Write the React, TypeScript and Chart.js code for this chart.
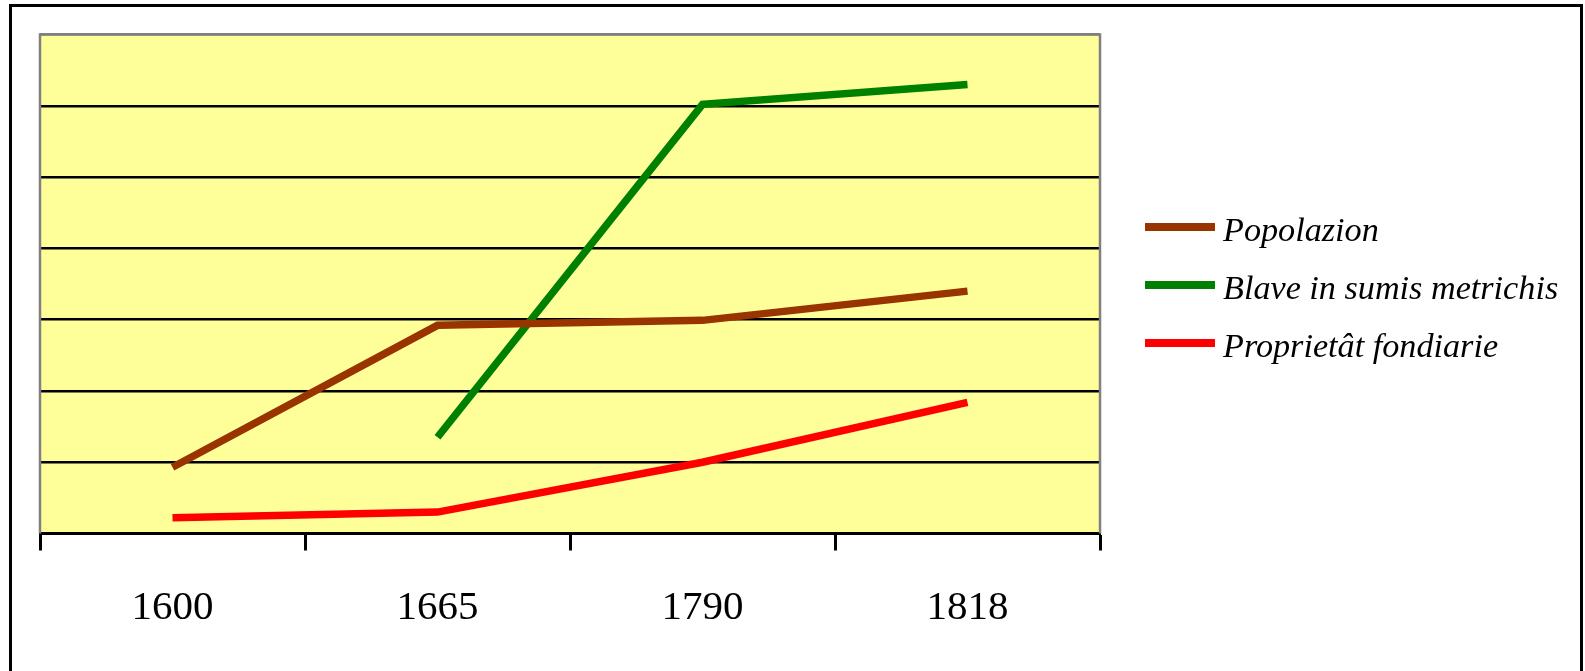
import React, { useEffect, useRef } from "react";
import { Chart, registerables } from "chart.js";

Chart.register(...registerables);

const categories = ["1600", "1665", "1790", "1818"];
const popolazion = [0.93, 2.92, 2.99, 3.4];
const blave: (number | null)[] = [null, 1.35, 6.02, 6.3];
const proprietat = [0.22, 0.3, 1.0, 1.84];
const seriesLabels = ["Popolazion", "Blave in sumis metrichis", "Proprietât fondiarie"];
const seriesColors = ["#993300", "#008000", "#FF0000"];
const yMin = 0;
const yMax = 7;
const yStep = 1;

const SERIF = "'Liberation Serif', 'Times New Roman', serif";

const plotFrame = {
  id: "plotFrame",
  beforeDraw(chart: any) {
    const { ctx, chartArea: a } = chart;
    ctx.save();
    ctx.fillStyle = "#FFFF99";
    ctx.fillRect(a.left, a.top, a.right - a.left, a.bottom - a.top);
    ctx.restore();
  },
  beforeDatasetsDraw(chart: any) {
    const { ctx, chartArea: a } = chart;
    ctx.save();
    ctx.strokeStyle = "#808080";
    ctx.lineWidth = 2.5;
    ctx.beginPath();
    ctx.moveTo(a.left, a.bottom);
    ctx.lineTo(a.left, a.top);
    ctx.lineTo(a.right, a.top);
    ctx.lineTo(a.right, a.bottom);
    ctx.stroke();
    ctx.restore();
  },
};

export default function App() {
  const canvasRef = useRef<HTMLCanvasElement | null>(null);

  useEffect(() => {
    document.body.style.margin = "0";
    const canvas = canvasRef.current;
    if (!canvas) return;
    const seriesData = [popolazion, blave, proprietat];
    const chart = new Chart(canvas, {
      type: "line",
      data: {
        labels: categories,
        datasets: seriesLabels.map((label, i) => ({
          label,
          data: seriesData[i] as any,
          borderColor: seriesColors[i],
          backgroundColor: seriesColors[i],
          borderWidth: 7.5,
          pointRadius: 0,
          pointHoverRadius: 0,
          tension: 0,
          fill: false,
          borderCapStyle: "butt" as const,
          borderJoinStyle: "miter" as const,
        })),
      },
      options: {
        responsive: false,
        animation: false,
        devicePixelRatio: 1,
        layout: { padding: { left: 40, top: 34.5, right: 485, bottom: 0 } },
        plugins: {
          legend: { display: false },
          tooltip: { enabled: false },
          title: { display: false },
        },
        scales: {
          x: {
            type: "category",
            offset: true,
            grid: {
              offset: true,
              drawOnChartArea: false,
              drawTicks: true,
              tickLength: 17,
              tickColor: "#000000",
              tickWidth: 3,
            },
            border: { display: true, color: "#000000", width: 3 },
            ticks: {
              color: "#000000",
              font: { family: SERIF, size: 41 },
              padding: 33,
              maxRotation: 0,
            },
            afterFit(s: any) {
              s.height = 671 - 533.5;
            },
          },
          y: {
            min: yMin,
            max: yMax,
            ticks: { display: false, stepSize: yStep },
            grid: {
              drawTicks: false,
              lineWidth: 2.5,
              color: (c: any) => (c.tick && c.tick.value === yMax ? "#808080" : "#000000"),
            },
            border: { display: false },
            afterFit(s: any) {
              s.width = 0;
            },
          },
        },
      },
      plugins: [plotFrame],
    });
    return () => chart.destroy();
  }, []);

  const legendTop = [227, 285, 343];
  const legendBaseline = [242, 300, 358];
  const fontSize = 34.2;
  const baselineOffset = 28.6;

  return (
    <div style={{ position: "relative", width: 1585, height: 671, overflow: "hidden", background: "#ffffff" }}>
      <canvas ref={canvasRef} width={1585} height={671} style={{ position: "absolute", left: 0, top: 0 }} />
      <div
        style={{
          position: "absolute",
          left: 8.5,
          top: 3.5,
          width: 1574.5,
          height: 700,
          boxSizing: "border-box",
          border: "3px solid #000000",
          pointerEvents: "none",
        }}
      />
      {seriesLabels.map((label, i) => (
        <React.Fragment key={label}>
          <div
            style={{
              position: "absolute",
              left: 1145,
              top: legendTop[i] - 4,
              width: 70,
              height: 8,
              background: seriesColors[i],
            }}
          />
          <div
            style={{
              position: "absolute",
              left: 1223,
              top: legendBaseline[i] - baselineOffset,
              fontFamily: SERIF,
              fontStyle: "italic",
              fontSize: fontSize,
              lineHeight: `${fontSize}px`,
              whiteSpace: "nowrap",
              color: "#000000",
            }}
          >
            {label}
          </div>
        </React.Fragment>
      ))}
    </div>
  );
}
